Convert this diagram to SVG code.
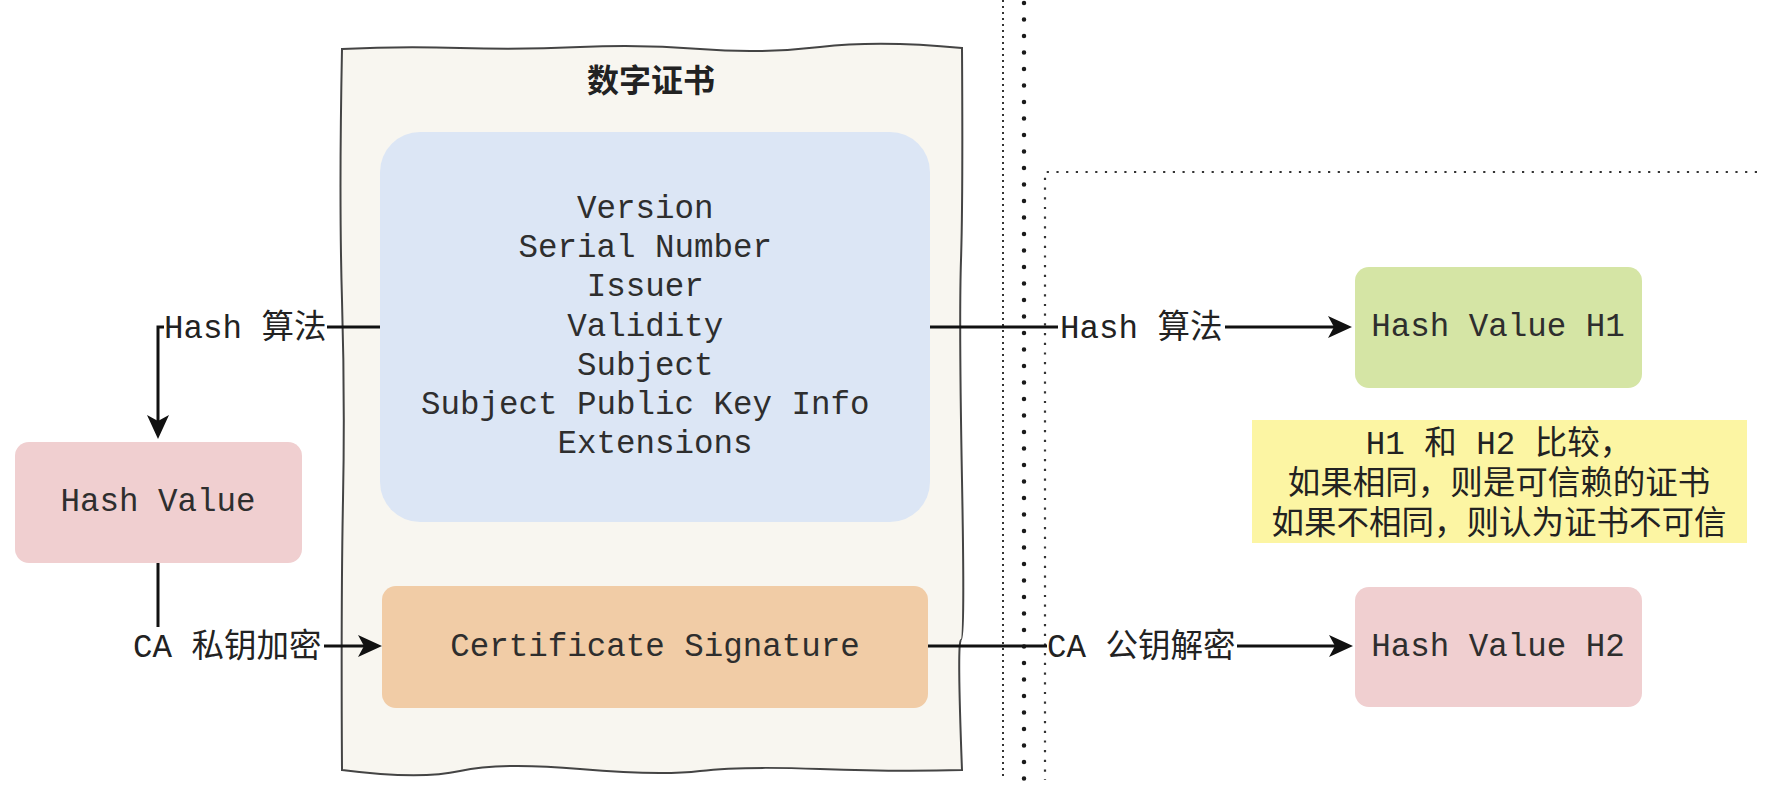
<svg xmlns="http://www.w3.org/2000/svg" width="1772" height="800" viewBox="0 0 1772 800">
<style>
.mono{font-family:"Liberation Mono","Noto Sans CJK SC",monospace;font-size:32.5px;fill:#2e2e2e}
.lbl{font-family:"Liberation Mono","Noto Sans CJK SC",monospace;font-size:32.5px;fill:#222}
.cjk{font-family:"Noto Sans CJK SC","Liberation Sans",sans-serif;font-size:32.5px;fill:#222}
.title{font-family:"Noto Sans CJK SC","Liberation Sans",sans-serif;font-size:32px;font-weight:700;fill:#222}
.edge{fill:none;stroke:#111;stroke-width:3}
.bg{fill:#fff}
</style>
<defs>
<marker id="arr" markerUnits="userSpaceOnUse" viewBox="0 0 24 22" refX="6" refY="11" markerWidth="24" markerHeight="22" orient="auto">
<path d="M0 0 L24 11 L0 22 L6 11 Z" fill="#111"/>
</marker>
</defs>
<rect width="1772" height="800" fill="#fff"/>

<g id="separators">
<line x1="1003" y1="0" x2="1003" y2="780" stroke="#333" stroke-width="2" stroke-dasharray="2 4"/>
<line x1="1024" y1="3" x2="1024" y2="782" stroke="#1a1a1a" stroke-width="4.5" stroke-linecap="round" stroke-dasharray="0 16.5"/>
<path d="M1757 172 H1045 V780" fill="none" stroke="#333" stroke-width="2.2" stroke-dasharray="2.2 7.5"/>
</g>

<g id="certificate">
<path d="M342 49 Q400 46 460 48 T580 47 T700 49 T820 47 T962 48 Q963 200 961 260 T962 480 T961 640 T962 770 Q900 772 820 769 T700 771 T580 769 T460 771 T342 770 Q341 600 343 500 T342 300 T342 49 Z" fill="#f8f6f0" stroke="#444" stroke-width="2"/>
<text class="title" x="651" y="92" text-anchor="middle">数字证书</text>
</g>

<g id="fields">
<rect x="380" y="132" width="550" height="390" rx="40" fill="#dce6f5"/>
<text class="mono" text-anchor="middle">
<tspan x="655" y="218">Version</tspan>
<tspan x="655" y="257.2">Serial Number</tspan>
<tspan x="655" y="296.4">Issuer</tspan>
<tspan x="655" y="335.6">Validity</tspan>
<tspan x="655" y="374.8">Subject</tspan>
<tspan x="655" y="414">Subject Public Key Info</tspan>
<tspan x="655" y="453.2">Extensions</tspan>
</text>
</g>

<g id="signature">
<rect x="382" y="586" width="546" height="122" rx="14" fill="#f1cca6"/>
<text class="mono" x="655" y="656" text-anchor="middle">Certificate Signature</text>
</g>

<g id="hash-value">
<rect x="15" y="442" width="287" height="121" rx="14" fill="#f0cfd0"/>
<text class="mono" x="158" y="511" text-anchor="middle">Hash Value</text>
</g>

<g id="hash-h1">
<rect x="1355" y="267" width="287" height="121" rx="14" fill="#d5e5a5"/>
<text class="mono" x="1498" y="336" text-anchor="middle">Hash Value H1</text>
</g>

<g id="hash-h2">
<rect x="1355" y="587" width="287" height="120" rx="14" fill="#f0cfd0"/>
<text class="mono" x="1498" y="656" text-anchor="middle">Hash Value H2</text>
</g>

<g id="compare-note">
<rect x="1252" y="420" width="495" height="123" fill="#fcf5a3"/>
<text class="lbl" x="1499" y="454" text-anchor="middle">H1 和 H2 比较，</text>
<text class="cjk" x="1499" y="494" text-anchor="middle">如果相同，则是可信赖的证书</text>
<text class="cjk" x="1499" y="534" text-anchor="middle">如果不相同，则认为证书不可信</text>
</g>

<g id="connectors">
<path class="edge" d="M380 327 H158 V421" marker-end="url(#arr)"/>
<rect class="bg" x="164" y="308" width="163" height="38"/>
<text class="lbl" x="164" y="338">Hash 算法</text>

<path class="edge" d="M158 563 V646 H364" marker-end="url(#arr)"/>
<rect class="bg" x="131" y="627" width="193" height="38"/>
<text class="lbl" x="133" y="657">CA 私钥加密</text>

<path class="edge" d="M930 327 H1334" marker-end="url(#arr)"/>
<rect class="bg" x="1058" y="308" width="167" height="38"/>
<text class="lbl" x="1060" y="338">Hash 算法</text>

<path class="edge" d="M928 646 H1335" marker-end="url(#arr)"/>
<rect class="bg" x="1047" y="627" width="190" height="38"/>
<text class="lbl" x="1047" y="657">CA 公钥解密</text>
</g>
</svg>
